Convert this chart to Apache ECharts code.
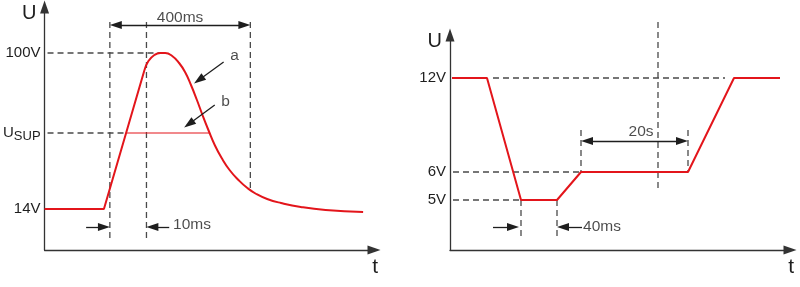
<!DOCTYPE html>
<html><head><meta charset="utf-8">
<script src="https://cdn.jsdelivr.net/npm/echarts@6/dist/echarts.min.js"></script>
<style>html,body{margin:0;padding:0;background:#fff}#c{width:800px;height:287px}</style>
</head><body><div id="c"></div>
<script>
// ---------- Left panel (schematic diagram units) ----------
const leftRise = [[0,41],[60,41],[101,180]];
const leftCurve = [[101,180],[105,189],[111,195],[117,197],[122,197],[129,194],[136,187],[142,178],[148,165],[154,150],[160,134],[166,119],[172,105],[179,92],[187,80],[196,70],[205,62],[214,56],[225,51],[239,47],[259,43],[284,40],[322,38]];
const leftBand = [[82,117],[167,117]];
const leftGuides = [[3,197],[117,197],null,[3,117],[82,117],null,[66,228],[66,12],null,[103,228],[103,12],null,[208,228],[208,60]];
const leftYTicks = [41,117,197];
const leftYLabels = ['14V','{u|U}{s|SUP}','100V'];
const leftArrows = [
  [[72,225,'triangle'],[202,225,'triangle']],
  [[42,23,'none'],[60,23,'triangle']],
  [[126,23,'none'],[109,23,'triangle']],
  [[181,188,'none'],[156,170,'triangle']],
  [[172,145,'none'],[146,126,'triangle']]
];
const leftNotes = [['400ms',137,232],['10ms',149,25],['a',192,194],['b',183,148]];

// ---------- Right panel ----------
const rightProfile = [[2,172],[37,172],[71,50],[107,50],[131,78],[238,78],[284,172],[330,172]];
const rightGuides = [[43,172],[275,172],null,[208,228],[208,62],null,[3,78],[131,78],null,[3,50],[71,50],null,[131,120],[131,78],null,[238,120],[238,78],null,[71,50],[71,12],null,[107,50],[107,12]];
const rightYTicks = [50,78,172];
const rightYLabels = ['5V','6V','12V'];
const rightArrows = [
  [[137,109,'triangle'],[232,109,'triangle']],
  [[43,23,'none'],[63,23,'triangle']],
  [[132,23,'none'],[113,23,'triangle']]
];
const rightNotes = [['20s',191,118],['40ms',152,23]];

const RED = '#e3151b', INK = '#1e1e1e', DASH = '#4a4a4a';
const FONT = 'Liberation Sans, Arial, sans-serif';

function xAx(gi, max) {
  return {gridIndex: gi, type: 'value', min: 0, max: max,
    axisLine: {show: true, symbol: ['none','triangle'], symbolSize: [9,13], lineStyle: {color: '#333', width: 1.3}},
    axisTick: {show: false}, axisLabel: {show: false}, splitLine: {show: false},
    name: 't', nameLocation: 'end', nameGap: 4,
    nameTextStyle: {fontSize: 21, color: INK, align: 'right', verticalAlign: 'top', padding: [7,0,0,0]}};
}
function yAx(gi, max, ticks, labels) {
  return {gridIndex: gi, type: 'value', min: 0, max: max,
    axisLine: {show: true, onZero: false, symbol: ['none','triangle'], symbolSize: [9,13], lineStyle: {color: '#333', width: 1.3}},
    axisTick: {show: false}, splitLine: {show: false},
    axisLabel: {show: true, customValues: ticks, margin: 4, fontSize: 15, color: INK,
      formatter: v => labels[ticks.indexOf(v)] || '',
      rich: {u: {fontSize: 15, color: INK}, s: {fontSize: 13, color: INK, padding: [6,0,0,0]}}},
    name: 'U', nameLocation: 'end', nameGap: 4,
    nameTextStyle: {fontSize: 20, color: INK, align: 'right', verticalAlign: 'top', padding: [0,8,0,0]}};
}
function arrowSeries(gi, arr) {
  return {type: 'line', xAxisIndex: gi, yAxisIndex: gi, data: [], silent: true,
    markLine: {silent: true, animation: false, symbolSize: [8,12], label: {show: false},
      lineStyle: {color: INK, width: 1.3, type: 'solid'},
      emphasis: {disabled: true},
      data: arr.map(p => [
        {coord: [p[0][0], p[0][1]], symbol: p[0][2]},
        {coord: [p[1][0], p[1][1]], symbol: p[1][2]}
      ])}};
}
function noteSeries(gi, notes) {
  return {type: 'scatter', xAxisIndex: gi, yAxisIndex: gi, silent: true, symbolSize: 0.1,
    itemStyle: {color: 'transparent'}, clip: false,
    label: {show: true, position: 'inside', formatter: '{b}', fontSize: 15.5, color: INK},
    data: notes.map(n => ({name: n[0], value: [n[1], n[2]]}))};
}
function lineS(gi, data, color, width, opts) {
  return Object.assign({type: 'line', xAxisIndex: gi, yAxisIndex: gi, data: data, symbol: 'none',
    silent: true, clip: false, connectNulls: false,
    lineStyle: {color: color, width: width}}, opts || {});
}
const dashStyle = {lineStyle: {color: DASH, width: 1.3, type: [6,4]}};

const chart = echarts.init(document.getElementById('c'));
chart.setOption({
  animation: false,
  backgroundColor: '#fff',
  textStyle: {fontFamily: FONT},
  grid: [
    {left: 41, top: 7, width: 333, bottom: 37},
    {left: 450, top: 35, width: 340, bottom: 37}
  ],
  xAxis: [xAx(0, 333), xAx(1, 340)],
  yAxis: [yAx(0, 243, leftYTicks, leftYLabels), yAx(1, 215, rightYTicks, rightYLabels)],
  series: [
    lineS(0, leftGuides, DASH, 1.3, dashStyle),
    lineS(0, leftRise, RED, 2),
    lineS(0, leftCurve, RED, 2, {smooth: 0.5}),
    lineS(0, leftBand, RED, 1.2),
    arrowSeries(0, leftArrows),
    noteSeries(0, leftNotes),
    lineS(1, rightGuides, DASH, 1.3, dashStyle),
    lineS(1, rightProfile, RED, 2),
    arrowSeries(1, rightArrows),
    noteSeries(1, rightNotes)
  ]
});
</script></body></html>
